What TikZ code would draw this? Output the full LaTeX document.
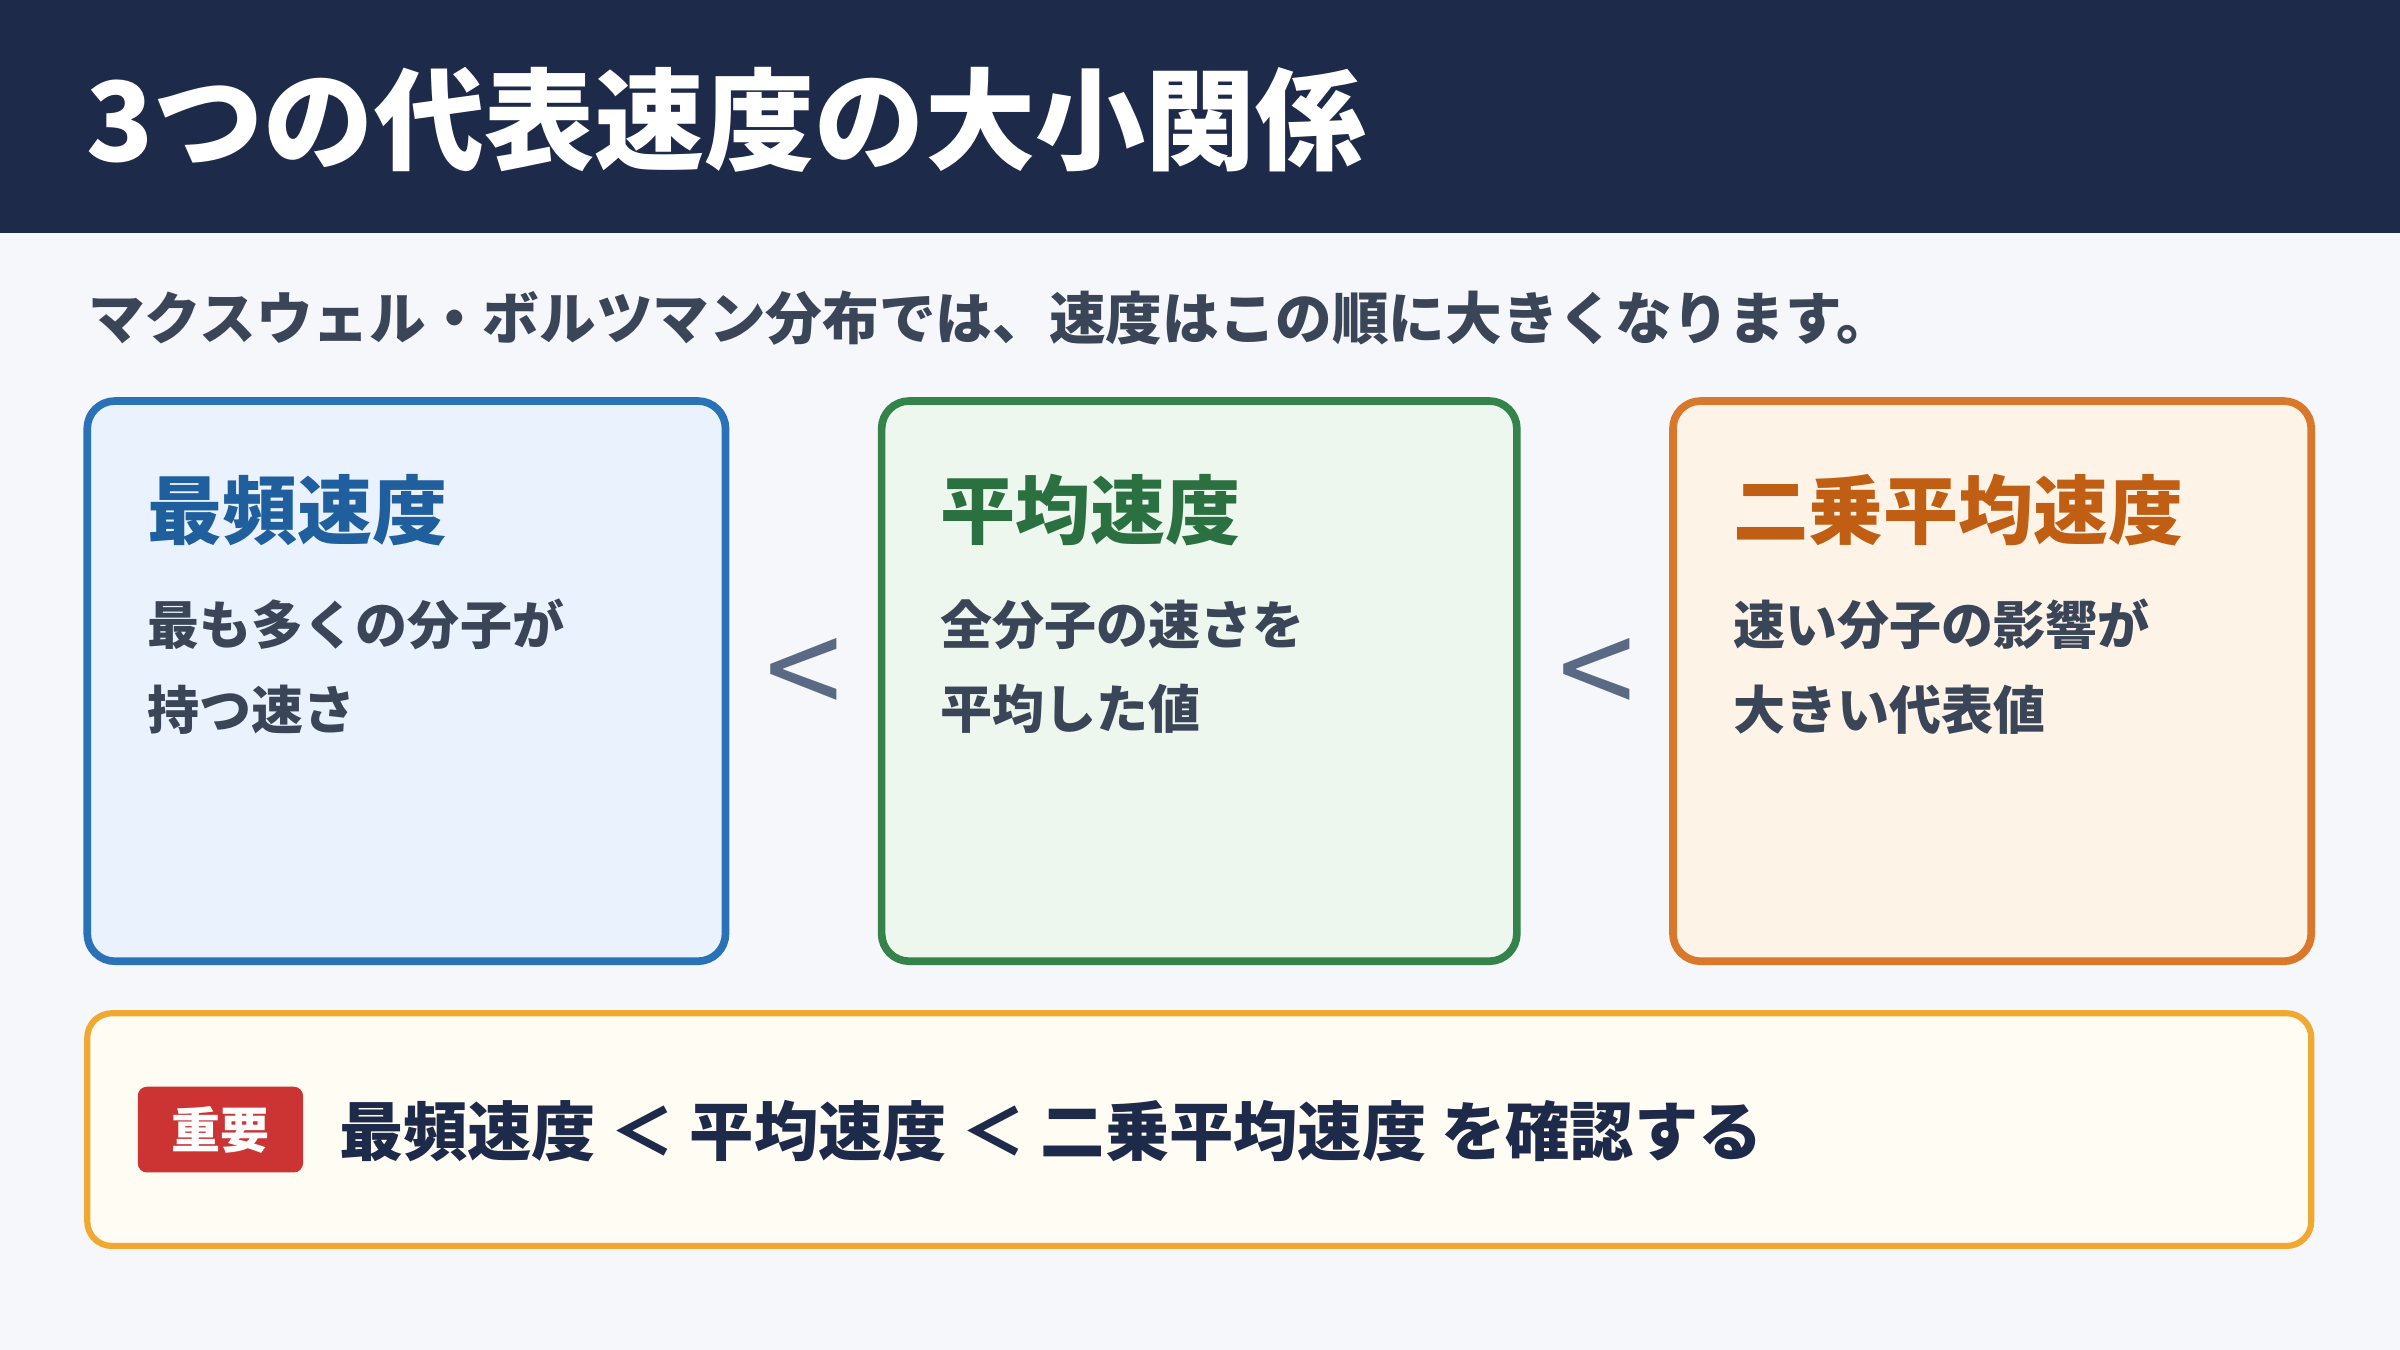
\documentclass[tikz,border=0pt]{standalone}
\usepackage{fontspec}
\setmainfont{Noto Sans CJK JP}
\definecolor{navy}{HTML}{1E2A4A}
\definecolor{bg}{HTML}{F5F7FB}
\definecolor{sub}{HTML}{3A4658}
\definecolor{bl}{HTML}{2A72B8}\definecolor{blf}{HTML}{EAF3FD}\definecolor{blt}{HTML}{1F5F9E}
\definecolor{gr}{HTML}{33834A}\definecolor{grf}{HTML}{EDF7EE}\definecolor{grt}{HTML}{2A7040}
\definecolor{or}{HTML}{D9782A}\definecolor{orf}{HTML}{FEF3E7}\definecolor{ort}{HTML}{C05E14}
\definecolor{yl}{HTML}{F0A830}\definecolor{ylf}{HTML}{FFFCF4}
\definecolor{rd}{HTML}{CC3333}\definecolor{lt}{HTML}{5A6A85}
\begin{document}
\begin{tikzpicture}[x=1pt,y=-1pt,
 card/.style={rounded corners=18pt,line width=5pt},
 ttl/.style={anchor=west,font=\fontsize{49}{52}\selectfont\bfseries},
 body/.style={anchor=north west,font=\fontsize{34}{55}\selectfont\bfseries,text=sub,align=left},
 lt/.style={font=\fontsize{90}{90}\selectfont,text=lt}]
\fill[bg] (0,0) rectangle (1568,882);
\useasboundingbox (0,0) rectangle (1568,882);
\fill[navy] (0,0) rectangle (1568,152);
\node[anchor=west,text=white,font=\fontsize{72}{76}\selectfont\bfseries] (title) at (53,78) {3つの代表速度の大小関係};
\node[anchor=west,text=sub,font=\fontsize{37}{40}\selectfont\bfseries] (sub) at (54,208) {マクスウェル・ボルツマン分布では、速度はこの順に大きくなります。};
\draw[card,draw=bl,fill=blf] (57,262) rectangle (474,628);
\draw[card,draw=gr,fill=grf] (576,262) rectangle (991,628);
\draw[card,draw=or,fill=orf] (1093,262) rectangle (1510,628);
\node[ttl,text=blt] (t1) at (93,333) {最頻速度};
\node[ttl,text=grt] (t2) at (611,333) {平均速度};
\node[ttl,text=ort] (t3) at (1129,333) {二乗平均速度};
\node[body] (b1) at (93,388) {最も多くの分子が\\持つ速さ};
\node[body] (b2) at (611,388) {全分子の速さを\\平均した値};
\node[body] (b3) at (1129,388) {速い分子の影響が\\大きい代表値};
\node[lt] (l1) at (525,444) {<};
\node[lt] (l2) at (1043,444) {<};
\draw[line width=4pt,rounded corners=16pt,draw=yl,fill=ylf] (57,662) rectangle (1510,814);
\fill[rd,rounded corners=6pt] (90,710) rectangle (198,766);
\node[text=white,font=\fontsize{32}{34}\selectfont\bfseries] (badge) at (144,738) {重要};
\node[anchor=west,text=navy,font=\fontsize{42}{46}\selectfont\bfseries] (sum) at (218,739) {最頻速度 ＜ 平均速度 ＜ 二乗平均速度 を確認する};
\end{tikzpicture}
\end{document}
